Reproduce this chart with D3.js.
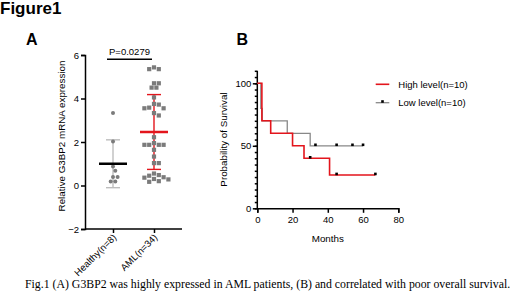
<!DOCTYPE html>
<html>
<head>
<meta charset="utf-8">
<script src="https://cdn.jsdelivr.net/npm/d3@7"></script>
<style>
  body { margin: 0; background: #fff; }
  svg { display: block; font-family: "Liberation Sans", Arial, sans-serif; }
</style>
</head>
<body>
<div id="chart"></div>
<script>
// ---- panel A data (relative G3BP2 mRNA expression) ----
const groups = ["Healthy(n=8)", "AML(n=34)"]
const healthyValues = [3.33, 2.02, 0.87, 0.68, 0.39, 0.39, 0.18, 0.18]
const amlValues = [5.35, 5.43, 5.35, 4.7, 4.7, 4.5, 4.5, 4.05, 3.75, 3.72, 3.58, 3.55, 3.55, 3.33, 3.22,
    2.22, 1.95, 1.87, 1.87, 1.87, 1.87, 1.64, 1.33, 1.03, 1.03,
    0.48, 0.45, 0.36, 0.38, 0.55, 0.28, 0.17, 0.2, 0.3]
const groupMeans = [1.0, 2.46]
const groupSD = [1.1, 1.72]
const yTicksA = [-2, 0, 2, 4, 6]
const pLabel = "P=0.0279"

// ---- panel B data (Kaplan-Meier steps) ----
const highTimes = [0, 2.6, 7.6, 20, 26.5, 41, 67]
const highSurv = [100, 70, 60, 50, 40, 26.7, 26.7]
const highCensor = [30, 45, 67]
const lowTimes = [0, 2, 2.8, 17, 30, 60]
const lowSurv = [100, 80, 70, 60, 50, 50]
const lowCensor = [33, 45, 54, 60]
const xTicksB = [0, 20, 40, 60, 80]
const yTicksB = [0, 50, 100]

const colors = {
    red: '#e3151c',
    gray: '#7b7b7b',
    lightGray: '#bdbdbd',
    line: '#888',
    black: '#000'
}

const width = 520, height = 302

const svg = d3.select('#chart')
    .append('svg')
    .attr('width', width)
    .attr('height', height)

svg.append('rect').attr('width', width).attr('height', height).attr('fill', '#fff')

svg.append('text')
    .attr('x', 0).attr('y', 13.5)
    .attr('font-size', 17).attr('font-weight', 'bold')
    .text('Figure1')

svg.append('text').attr('x', 26).attr('y', 44.5)
    .attr('font-size', 16).attr('font-weight', 'bold').text('A')
svg.append('text').attr('x', 236.5).attr('y', 45)
    .attr('font-size', 16).attr('font-weight', 'bold').text('B')

// ================= panel A =================
const yA = d3.scaleLinear().domain([-2, 6]).range([229, 55])
const xA = d3.scalePoint().domain(groups).range([85, 182]).padding(0.683)

const axA = svg.append('g')

const yAxisA = axA.append('g')
    .attr('transform', 'translate(85,0)')
    .call(d3.axisLeft(yA).tickValues(yTicksA).tickSize(4).tickPadding(2).tickFormat(d3.format('d')))
const xAxisA = axA.append('g')
    .attr('transform', 'translate(0,229)')
    .call(d3.axisBottom(xA).tickSize(4).tickFormat(''))
xAxisA.select('.domain').attr('d', 'M85,0H182')

axA.selectAll('.domain, .tick line').attr('stroke', colors.black).attr('stroke-width', 1.5)
yAxisA.selectAll('.tick text').attr('font-size', 9.5).attr('font-family', 'Liberation Sans').attr('fill', '#000')

// rotated category labels
axA.selectAll('.catlabel')
    .data(groups)
    .join('text')
    .attr('class', 'catlabel')
    .attr('font-size', 9.5)
    .attr('text-anchor', 'end')
    .attr('transform', d => `translate(${xA(d) + 4},${238}) rotate(-45)`)
    .text(d => d)

axA.append('text')
    .attr('transform', `translate(64.5,${(55 + 229) / 2 - 6}) rotate(-90)`)
    .attr('text-anchor', 'middle')
    .attr('font-size', 9.8)
    .text('Relative G3BP2 mRNA expression')

// simple swarm layout
function swarm(values, d) {
    const placed = []
    const order = values.map((v, i) => i).sort((a, b) => values[b] - values[a])
    const out = new Array(values.length)
    order.forEach(i => {
        const py = yA(values[i])
        let best = 0
        for (let k = 0; k < 40; k++) {
            const off = (k % 2 ? 1 : -1) * Math.ceil(k / 2) * d / 2
            const ok = placed.every(p => Math.hypot(p.x - off, p.y - py) >= d)
            if (ok) { best = off; break }
        }
        placed.push({x: best, y: py})
        out[i] = best
    })
    return out
}

const hOff = swarm(healthyValues, 4.6)
const aOff = swarm(amlValues, 4.8)

// error bars
const barColors = [colors.lightGray, colors.red]
const meanColors = [colors.black, colors.red]
groups.forEach((g, i) => {
    const cx = xA(g)
    const top = yA(groupMeans[i] + groupSD[i]), bot = yA(groupMeans[i] - groupSD[i])
    const eg = svg.append('g').attr('stroke', barColors[i]).attr('stroke-width', 1.4)
    eg.append('line').attr('x1', cx).attr('x2', cx).attr('y1', top).attr('y2', bot)
    eg.append('line').attr('x1', cx - 7).attr('x2', cx + 7).attr('y1', top).attr('y2', top)
    eg.append('line').attr('x1', cx - 7).attr('x2', cx + 7).attr('y1', bot).attr('y2', bot)
})

svg.append('g').selectAll('circle')
    .data(healthyValues)
    .join('circle')
    .attr('cx', (d, i) => xA(groups[0]) + hOff[i])
    .attr('cy', d => yA(d))
    .attr('r', 2)
    .attr('fill', colors.gray)

svg.append('g').selectAll('rect')
    .data(amlValues)
    .join('rect')
    .attr('x', (d, i) => xA(groups[1]) + aOff[i] - 2.1)
    .attr('y', d => yA(d) - 2.1)
    .attr('width', 4.2)
    .attr('height', 4.2)
    .attr('fill', colors.gray)

groups.forEach((g, i) => {
    const cx = xA(g)
    svg.append('line')
        .attr('x1', cx - 14).attr('x2', cx + 14)
        .attr('y1', yA(groupMeans[i])).attr('y2', yA(groupMeans[i]))
        .attr('stroke', meanColors[i]).attr('stroke-width', 2.5)
})

// significance bar
svg.append('line')
    .attr('x1', 107).attr('x2', 152).attr('y1', 59.3).attr('y2', 59.3)
    .attr('stroke', colors.black).attr('stroke-width', 1.5)
svg.append('text')
    .attr('x', 129.5).attr('y', 54.5)
    .attr('text-anchor', 'middle').attr('font-size', 9.5)
    .text(pLabel)

// ================= panel B =================
const xB = d3.scaleLinear().domain([0, 80]).range([257.3, 398.3])
const yB = d3.scaleLinear().domain([0, 100]).range([208.3, 83.3])

const axB = svg.append('g')
axB.append('g')
    .attr('transform', 'translate(257.3,0)')
    .call(d3.axisLeft(yB).tickValues(d3.range(0, 111, 5)).tickSize(2.5).tickFormat(''))
    .call(g => g.select('.domain').attr('d', `M0,${yB(110)}V${yB(0)}`))
const yMaj = axB.append('g')
    .attr('transform', 'translate(257.3,0)')
    .call(d3.axisLeft(yB).tickValues(yTicksB).tickSize(4.5).tickPadding(1.5))
yMaj.select('.domain').remove()
const xAxB = axB.append('g')
    .attr('transform', 'translate(0,208.3)')
    .call(d3.axisBottom(xB).tickValues(xTicksB).tickSize(4.5).tickPadding(3))
axB.selectAll('.domain, .tick line').attr('stroke', colors.black).attr('stroke-width', 1.5)
axB.selectAll('.tick text').attr('font-size', 9.5).attr('font-family', 'Liberation Sans').attr('fill', '#000')

axB.append('text')
    .attr('x', xB(40)).attr('y', 241.5)
    .attr('text-anchor', 'middle').attr('font-size', 9.8)
    .text('Months')
axB.append('text')
    .attr('transform', `translate(226.5,${(yB(110) + yB(0)) / 2}) rotate(-90)`)
    .attr('text-anchor', 'middle').attr('font-size', 9.8)
    .text('Probability of Survival')

const stepLine = d3.line()
    .x(d => xB(d[0]))
    .y(d => yB(d[1]))
    .curve(d3.curveStepAfter)

function levelAt(times, surv, t) {
    let s = surv[0]
    times.forEach((tt, i) => { if (tt <= t) s = surv[i] })
    return s
}

const curves = [
    {times: lowTimes, surv: lowSurv, censor: lowCensor, color: colors.line, w: 1.3},
    {times: highTimes, surv: highSurv, censor: highCensor, color: colors.red, w: 1.6}
]
curves.forEach(c => {
    svg.append('path')
        .datum(c.times.map((t, i) => [t, c.surv[i]]))
        .attr('d', stepLine)
        .attr('fill', 'none')
        .attr('stroke', c.color)
        .attr('stroke-width', c.w)
    svg.append('g').selectAll('rect')
        .data(c.censor)
        .join('rect')
        .attr('x', d => xB(d) - 1.3)
        .attr('y', d => yB(levelAt(c.times, c.surv, d)) - 2.3)
        .attr('width', 2.6)
        .attr('height', 2.6)
        .attr('fill', colors.black)
})

// legend
const legend = svg.append('g').attr('font-size', 9.5)
legend.append('line').attr('x1', 375.7).attr('x2', 389.3).attr('y1', 84.3).attr('y2', 84.3)
    .attr('stroke', colors.red).attr('stroke-width', 1.6)
legend.append('text').attr('x', 398.3).attr('y', 87.8).text('High level(n=10)')
legend.append('line').attr('x1', 375.7).attr('x2', 389.3).attr('y1', 102.7).attr('y2', 102.7)
    .attr('stroke', colors.line).attr('stroke-width', 1.3)
legend.append('rect').attr('x', 381.2).attr('y', 100.2).attr('width', 2.6).attr('height', 2.6).attr('fill', colors.black)
legend.append('text').attr('x', 398.3).attr('y', 106.2).text('Low level(n=10)')

// caption
svg.append('text')
    .attr('x', 25).attr('y', 287.5)
    .attr('font-family', '"Liberation Serif", "Times New Roman", serif')
    .attr('font-size', 11.8)
    .text('Fig.1 (A) G3BP2 was highly expressed in AML patients, (B) and correlated with poor overall survival.')
</script>
</body>
</html>
